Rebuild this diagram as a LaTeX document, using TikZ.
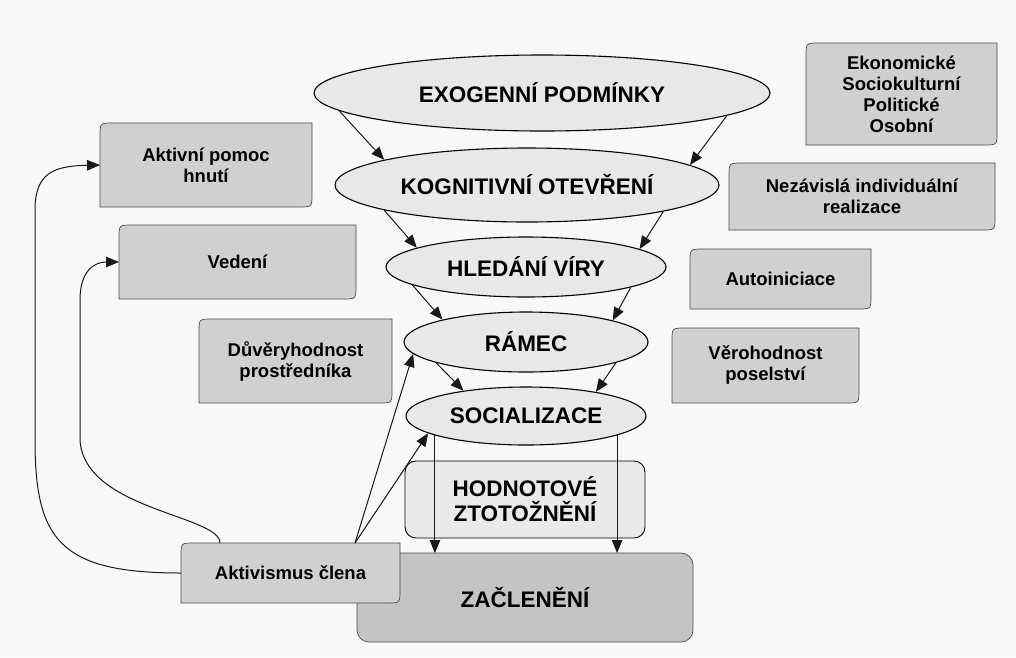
\documentclass[tikz,border=0pt]{standalone}
\usepackage{fontspec}
\setmainfont{Liberation Sans}
\usetikzlibrary{arrows.meta,backgrounds,calc,shapes.geometric}
\definecolor{bg}{HTML}{F8F8F8}
\definecolor{ellfill}{HTML}{E8E8E8}
\definecolor{boxfill}{HTML}{D0D0D0}
\definecolor{zacfill}{HTML}{C4C4C4}
\definecolor{hodfill}{HTML}{EAEAEA}
\definecolor{boxedge}{HTML}{4A4A4A}
\newcommand\cutshape[2]{%
  \path[fill=#2,draw=boxedge,line width=0.7pt]
   ([yshift=-13pt]#1.north west) .. controls (#1.north west) .. ([xshift=13pt]#1.north west)
   -- (#1.north east) -- ([yshift=13pt]#1.south east) .. controls (#1.south east) .. ([xshift=-13pt]#1.south east)
   -- (#1.south west) -- cycle;}
\tikzset{
  ell/.style={ellipse,draw=black,line width=1.1pt,fill=ellfill,inner sep=0pt,
    font=\fontsize{22.5}{25}\selectfont\bfseries},
  cbox/.style={rectangle,inner sep=0pt,outer sep=0pt,align=center,
    font=\fontsize{18.5}{21}\selectfont\bfseries},
  bigbox/.style={rectangle,rounded corners=11pt,inner sep=0pt,outer sep=0pt,align=center,
    font=\fontsize{22.5}{25}\selectfont\bfseries},
  arr/.style={-{Triangle[length=13pt,width=10.5pt]},line width=1pt,draw=black!90},
}
\begin{document}
\begin{tikzpicture}[x=1pt,y=-1pt]
\useasboundingbox (0,0) rectangle (1016,657);
% funnel ellipses
\node[ell,minimum width=456pt,minimum height=76pt] (ex) at (542,93) {EXOGENNÍ PODMÍNKY};
\node[ell,minimum width=384pt,minimum height=74pt] (ko) at (527,185) {KOGNITIVNÍ OTEVŘENÍ};
\node[ell,minimum width=280pt,minimum height=60pt] (hl) at (526,267) {HLEDÁNÍ VÍRY};
\node[ell,minimum width=244pt,minimum height=60pt] (ra) at (526,342) {RÁMEC};
\node[ell,minimum width=240pt,minimum height=58pt] (so) at (526,416) {SOCIALIZACE};
% bottom boxes
\node[bigbox,draw=black,line width=0.9pt,fill=hodfill,minimum width=240pt,minimum height=77pt] (ho) at (525,499.5) {HODNOTOVÉ\\ZTOTOŽNĚNÍ};
\node[bigbox,minimum width=336pt,minimum height=89pt] (za) at (525,597.5) {ZAČLENĚNÍ};
% side boxes
\node[cbox,minimum width=212pt,minimum height=84pt] (ap) at (206,165) {Aktivní pomoc\\hnutí};
\node[cbox,minimum width=237pt,minimum height=74pt] (ve) at (237.5,262) {Vedení};
\node[cbox,minimum width=193pt,minimum height=84pt] (du) at (295.5,361) {Důvěryhodnost\\prostředníka};
\node[cbox,minimum width=191pt,minimum height=102pt] (ek) at (901.5,94) {Ekonomické\\Sociokulturní\\Politické\\Osobní};
\node[cbox,minimum width=266pt,minimum height=67pt] (ne) at (862,196.5) {Nezávislá individuální\\realizace};
\node[cbox,minimum width=181pt,minimum height=60pt] (au) at (780.5,279) {Autoiniciace};
\node[cbox,minimum width=187pt,minimum height=75pt] (vr) at (765.5,365.5) {Věrohodnost\\poselství};
\node[cbox,minimum width=219pt,minimum height=60pt] (ak) at (290.5,573) {Aktivismus člena};
\begin{pgfonlayer}{background}
  \fill[bg] (0,0) rectangle (1016,657);
  \path[fill=zacfill,draw=boxedge,line width=0.7pt,rounded corners=12pt] (za.north west) rectangle (za.south east);
  \cutshape{ak}{boxfill}
  \cutshape{ap}{boxfill}
  \cutshape{ve}{boxfill}
  \cutshape{du}{boxfill}
  \cutshape{ek}{boxfill}
  \cutshape{ne}{boxfill}
  \cutshape{au}{boxfill}
  \cutshape{vr}{boxfill}
\end{pgfonlayer}
% funnel arrows
\draw[arr] (ex.185) -- (ko.170);
\draw[arr] (ex.353) -- (ko.7);
\draw[arr] (ko.190.6) -- (hl.170.5);
\draw[arr] (ko.349.4) -- (hl.9);
\draw[arr] (hl.189.6) -- (ra.165);
\draw[arr] (hl.349.8) -- (ra.14);
\draw[arr] (ra.193.4) -- (so.158.5);
\draw[arr] (ra.347.8) -- (so.19);
\draw[arr] (so.192) -- (so.192 |- za.north);
\draw[arr] (so.348) -- (so.348 |- za.north);
% activism arrows
\coordinate (akt) at ([xshift=64.5pt]ak.north);
\draw[arr] (akt) -- (ra.186);
\draw[arr] (akt) -- (so.190);
\draw[arr] (ak.west) .. controls (60,573) and (35,540) .. (35,440) -- (35,210) .. controls (35,172) and (55,166) .. (ap.west);
\coordinate (aki) at ([xshift=-70.5pt]ak.north);
\draw[arr] (aki) .. controls (220,515) and (84,510) .. (80,440) -- (80,300) .. controls (80,270) and (95,262) .. (ve.west);
\end{tikzpicture}
\end{document}
